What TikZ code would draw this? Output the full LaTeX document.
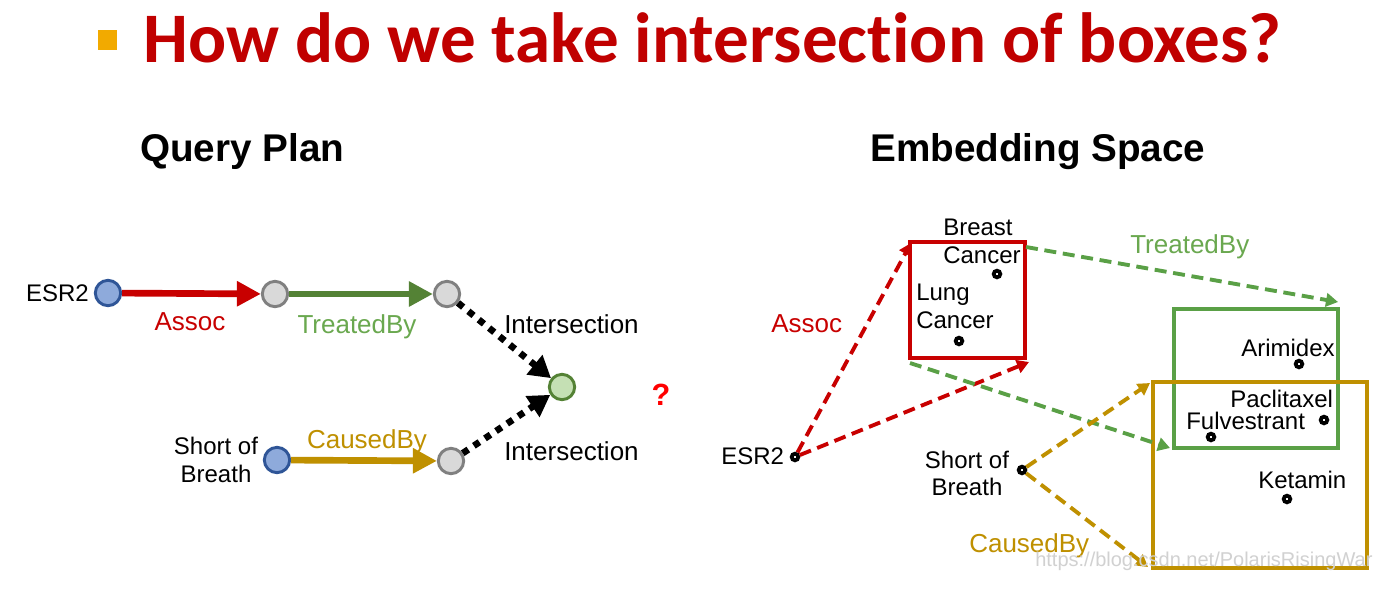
\documentclass[tikz,border=0pt]{standalone}
\usepackage{fontspec}
\setmainfont{Liberation Sans}
\newfontfamily\titlefont{Carlito}[Ligatures={NoCommon}]
\usetikzlibrary{arrows.meta}
\definecolor{titlered}{RGB}{192,0,0}
\definecolor{bulletorange}{RGB}{242,170,0}
\definecolor{edgered}{RGB}{200,0,0}
\definecolor{edgegreen}{RGB}{84,130,53}
\definecolor{labgreen}{RGB}{106,168,79}
\definecolor{boxgreen}{RGB}{90,160,70}
\definecolor{gold}{RGB}{191,144,0}
\definecolor{blueFill}{RGB}{142,170,219}
\definecolor{blueDraw}{RGB}{47,85,151}
\definecolor{grayFill}{RGB}{217,217,217}
\definecolor{grayDraw}{RGB}{128,128,128}
\definecolor{greenFill}{RGB}{197,224,180}
\tikzset{
  lab/.style={inner sep=0pt, font=\fontsize{18}{21}\selectfont, align=center},
  elab/.style={inner sep=0pt, font=\fontsize{19.5}{23}\selectfont},
  heading/.style={inner sep=0pt, font=\fontsize{29}{34}\selectfont\bfseries},
  qnode/.style={circle, minimum size=19pt, inner sep=0pt, line width=2.2pt},
  bluenode/.style={qnode, draw=blueDraw, fill=blueFill},
  graynode/.style={qnode, draw=grayDraw, fill=grayFill},
  greennode/.style={qnode, draw=edgegreen, fill=greenFill},
  thickarrow/.style={line width=5pt, -{Triangle[length=18pt,width=18pt]}},
  dotarrow/.style={line width=5pt, dash pattern=on 5pt off 5pt, black, -{Triangle[length=16pt,width=18pt]}},
  edot/.style={circle, draw=black, fill=white, line width=2.8pt, minimum size=5pt, inner sep=0pt},
  dasharrow/.style={line width=2.9pt, dash pattern=on 9pt off 5pt, -{Triangle[length=9pt,width=10pt]}},
  boxline/.style={line width=2.8pt},
}
\begin{document}
\begin{tikzpicture}[x=0.75pt,y=-0.75pt]
\useasboundingbox[fill=white] (0,0) rectangle (1400,590);

% title
\fill[bulletorange] (98,30) rectangle (117,50);
\node[anchor=base west, inner sep=0pt, text=titlered, font=\fontsize{53.3}{60}\titlefont\bfseries] (title) at (143,62) {How do we take intersection of boxes?};

% headings
\node[heading, anchor=base west] (qp) at (140,161) {Query Plan};
\node[heading, anchor=base west] (es) at (870,161) {Embedding Space};

% ---------- Query plan ----------
\node[bluenode] (esr) at (108,293) {};
\node[graynode] (g1) at (275,294) {};
\node[graynode] (g2) at (447,294) {};
\node[greennode] (gi) at (562,387) {};
\node[bluenode] (sob) at (277,460) {};
\node[graynode] (g3) at (451,461) {};

\node[lab, anchor=base east] (esrl) at (89,301) {ESR2};
\node[lab, anchor=base] (sobl1) at (216,454) {Short of};
\node[lab, anchor=base] (sobl2) at (216,482) {Breath};

\draw[thickarrow, edgered] (esr) -- (g1);
\draw[thickarrow, edgegreen] (g1) -- (g2);
\draw[thickarrow, gold] (sob) -- (g3);
\draw[dotarrow] (g2) -- (gi);
\draw[dotarrow] (g3) -- (gi);

\node[elab, anchor=base, text=edgered] (la1) at (190,330) {Assoc};
\node[elab, anchor=base, text=labgreen] (lt1) at (357,333) {TreatedBy};
\node[elab, anchor=base, text=gold] (lc1) at (367,448) {CausedBy};
\node[elab, anchor=base west] (int1) at (504,333) {Intersection};
\node[elab, anchor=base west] (int2) at (504,460) {Intersection};
\node[inner sep=0pt, anchor=base, text=red, font=\fontsize{23}{26}\selectfont\bfseries] (qm) at (661,405) {?};

% ---------- Embedding space ----------
\coordinate (rtl) at (910,242);
\coordinate (rbr) at (1025,358);
\coordinate (gtl) at (1174,309);
\coordinate (gbr) at (1338,448);
\coordinate (ytl) at (1153,382);
\coordinate (ybr) at (1367,568);

\draw[boxline, edgered] (rtl) rectangle (rbr);
\draw[boxline, boxgreen] (gtl) rectangle (gbr);
\draw[boxline, gold] (ytl) rectangle (ybr);

\node[lab, anchor=base west] (br1) at (943,235) {Breast};
\node[lab, anchor=base west] (br2) at (943,263) {Cancer};
\node[edot] (bc) at (997,274) {};
\node[lab, anchor=base west] (lu1) at (916,300) {Lung};
\node[lab, anchor=base west] (lu2) at (916,328) {Cancer};
\node[edot] (lc) at (959,341) {};

\node[lab, anchor=base west] (arl) at (1241,356) {Arimidex};
\node[edot] (ar) at (1299,364) {};
\node[lab, anchor=base west] (pal) at (1230,407) {Paclitaxel};
\node[edot] (pa) at (1324,420) {};
\node[lab, anchor=base west] (ful) at (1186,429) {Fulvestrant};
\node[edot] (fu) at (1211,437) {};
\node[lab, anchor=base west] (kel) at (1258,488) {Ketamin};
\node[edot] (ke) at (1287,499) {};

\node[lab, anchor=base west] (esr2l) at (721,464) {ESR2};
\node[edot] (esr2) at (795,457) {};
\node[lab, anchor=base] (sb1) at (967,468) {Short of};
\node[lab, anchor=base] (sb2) at (967,495) {Breath};
\node[edot] (sb) at (1022,470) {};

\coordinate (ra1) at (911,243);
\coordinate (ra2) at (1029,362);
\coordinate (ts1) at (1026,247);
\coordinate (te1) at (1338,302);
\coordinate (ts2) at (910,363);
\coordinate (te2) at (1170,448);
\coordinate (ce1) at (1150,383);
\coordinate (ce2) at (1148,567);

\draw[dasharrow, edgered] (esr2) -- (ra1);
\draw[dasharrow, edgered] (esr2) -- (ra2);
\draw[dasharrow, boxgreen] (ts1) -- (te1);
\draw[dasharrow, boxgreen] (ts2) -- (te2);
\draw[dasharrow, gold] (sb) -- (ce1);
\draw[dasharrow, gold] (sb) -- (ce2);

\node[elab, anchor=base west, text=edgered] (la2) at (771,332) {Assoc};
\node[elab, anchor=base west, text=labgreen] (lt2) at (1130,253) {TreatedBy};
\node[elab, anchor=base west, text=gold] (lc2) at (969,552) {CausedBy};

\node[inner sep=0pt, anchor=west, text=black!18, font=\fontsize{15}{18}\selectfont] (wm) at (1035,561) {https://blog.csdn.net/PolarisRisingWar};
\end{tikzpicture}
\end{document}
